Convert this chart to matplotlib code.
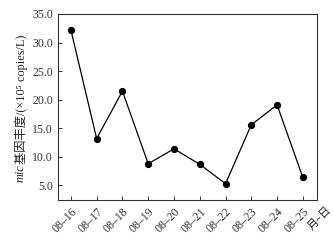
import matplotlib
matplotlib.use("Agg")
import matplotlib.pyplot as plt
import matplotlib.transforms as mtransforms

plt.rcParams['font.family'] = ['Liberation Serif', 'Noto Sans CJK SC']

dates = ["08–16", "08–17", "08–18", "08–19", "08–20",
         "08–21", "08–22", "08–23", "08–24", "08–25"]
abundance = [32.2, 13.2, 21.5, 8.8, 11.4, 8.7, 5.3, 15.6, 19.1, 6.4]
y_ticks = [5.0, 10.0, 15.0, 20.0, 25.0, 30.0, 35.0]

fig = plt.figure(figsize=(3.33, 2.4), dpi=100)
ax = fig.add_axes([58 / 333, 40 / 240, 259 / 333, 186 / 240])

x = list(range(len(dates)))
ax.plot(x, abundance, color="black", lw=0.9, marker="o", ms=4.2,
        markerfacecolor="black", markeredgecolor="black")

ax.set_xlim(-0.5, 9.55)
ax.set_ylim(2.45, 35)
ax.set_yticks(y_ticks)
ax.set_yticklabels(["%.1f" % v for v in y_ticks])
ax.set_xticks(x)
shift = mtransforms.ScaledTranslation(4 / 100, 0, fig.dpi_scale_trans)
ax.set_xticklabels(dates, rotation=45, ha="right", va="top", rotation_mode="anchor")
for lab in ax.get_xticklabels():
    lab.set_transform(lab.get_transform() + shift)
ax.tick_params(direction="in", labelsize=8.5, length=3, width=0.7, colors="#333333")
ax.tick_params(axis="x", pad=4)
for s in ax.spines.values():
    s.set_linewidth(0.8)
    s.set_color("#333333")

# y label: italic gene name + rest
ylab_x = 21 / 333
ylab_y = 1 - 164 / 240
fig.text(ylab_x, ylab_y, "mic", rotation=90, ha="center", va="top",
         fontsize=8.8, style="italic", color="#222222")
fig.text(ylab_x, ylab_y, "基因丰度/(×10⁵ copies/L)", rotation=90, ha="center",
         va="bottom", fontsize=8.8, color="#222222")

ax.text(9.92, 2.45, "月–日", rotation=45, ha="right", va="top",
        rotation_mode="anchor", fontsize=8, color="#222222",
        family=["Noto Sans CJK SC"],
        transform=ax.transData + mtransforms.ScaledTranslation(0, -5 / 100, fig.dpi_scale_trans))

fig.savefig("out.png", dpi=100)
